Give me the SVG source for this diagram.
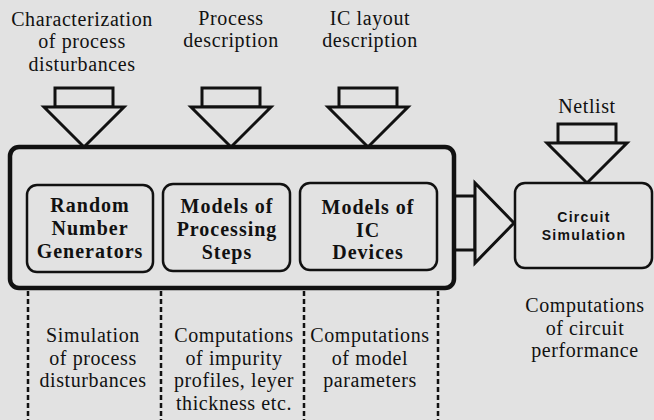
<svg xmlns="http://www.w3.org/2000/svg" width="654" height="420" viewBox="0 0 654 420">
  <style>
    .lbl { font-family: "Liberation Serif", serif; font-size: 20px; fill: #111; text-anchor: middle; letter-spacing: 0.6px; }
    .blk { font-family: "Liberation Serif", serif; font-size: 20px; font-weight: bold; fill: #111; text-anchor: middle; letter-spacing: 1px; }
    .sim { font-family: "Liberation Sans", sans-serif; font-size: 14px; font-weight: bold; fill: #111; text-anchor: middle; letter-spacing: 1.3px; }
    .arrow { fill: #e2e2e2; stroke: #111; stroke-width: 3; stroke-linejoin: miter; }
    .inner { fill: #e2e2e2; stroke: #111; stroke-width: 2.5; }
    .dash { stroke: #111; stroke-width: 2.5; stroke-dasharray: 5 3; fill: none; }
  </style>
  <defs>
    <!-- block arrow pointing down: stem box over a triangle -->
    <g id="downArrow">
      <path class="arrow" d="M-29,-59 H29 V-40 H-29 Z"/>
      <path class="arrow" d="M-40,-40 H40 L0,0 Z"/>
    </g>
  </defs>
  <rect width="654" height="420" fill="#e2e2e2"/>

  <!-- input labels -->
  <g id="labels-top">
    <text class="lbl" x="82" y="26">Characterization</text>
    <text class="lbl" x="82" y="48">of process</text>
    <text class="lbl" x="82" y="71">disturbances</text>
    <text class="lbl" x="231" y="25">Process</text>
    <text class="lbl" x="231" y="47">description</text>
    <text class="lbl" x="370" y="25">IC layout</text>
    <text class="lbl" x="370" y="47">description</text>
    <text class="lbl" x="587" y="113">Netlist</text>
  </g>

  <!-- connectors -->
  <g id="connectors">
    <use href="#downArrow" x="84" y="147"/>
    <use href="#downArrow" x="231" y="147"/>
    <use href="#downArrow" x="368" y="147"/>
    <use href="#downArrow" x="587" y="183"/>
    <!-- right-pointing block arrow into circuit simulation -->
    <path class="arrow" d="M452,196 H475 V250 H452"/>
    <path class="arrow" d="M475,183 V263 L514,223 Z"/>
    <line class="dash" x1="28" y1="291" x2="28" y2="420"/>
    <line class="dash" x1="161" y1="291" x2="161" y2="420"/>
    <line class="dash" x1="304" y1="291" x2="304" y2="420"/>
    <line class="dash" x1="438" y1="291" x2="438" y2="420"/>
  </g>

  <!-- process simulator container -->
  <g id="simulator">
    <rect x="10" y="147" width="444" height="141" rx="9" fill="#e2e2e2" stroke="#111" stroke-width="4.5"/>
  </g>

  <g id="rng">
    <rect class="inner" x="27" y="185" width="126" height="87" rx="10"/>
    <text class="blk" x="90" y="212">Random</text>
    <text class="blk" x="90" y="235">Number</text>
    <text class="blk" x="90" y="258">Generators</text>
  </g>

  <g id="process-models">
    <rect class="inner" x="163" y="184" width="127" height="87" rx="10"/>
    <text class="blk" x="227" y="213">Models of</text>
    <text class="blk" x="227" y="236">Processing</text>
    <text class="blk" x="227" y="259">Steps</text>
  </g>

  <g id="device-models">
    <rect class="inner" x="300" y="183" width="137" height="87" rx="10"/>
    <text class="blk" x="368" y="214">Models of</text>
    <text class="blk" x="368" y="237">IC</text>
    <text class="blk" x="368" y="259">Devices</text>
  </g>

  <g id="circuit-simulation">
    <rect class="inner" x="515" y="183" width="137" height="85" rx="10"/>
    <text class="sim" x="584" y="222">Circuit</text>
    <text class="sim" x="584" y="240">Simulation</text>
  </g>

  <!-- output descriptions -->
  <g id="labels-bottom">
    <text class="lbl" x="93" y="342">Simulation</text>
    <text class="lbl" x="93" y="365">of process</text>
    <text class="lbl" x="93" y="387">disturbances</text>
    <text class="lbl" x="234" y="342">Computations</text>
    <text class="lbl" x="234" y="365">of impurity</text>
    <text class="lbl" x="234" y="387">profiles, leyer</text>
    <text class="lbl" x="234" y="410">thickness etc.</text>
    <text class="lbl" x="370" y="342">Computations</text>
    <text class="lbl" x="370" y="365">of model</text>
    <text class="lbl" x="370" y="387">parameters</text>
    <text class="lbl" x="585" y="312">Computations</text>
    <text class="lbl" x="585" y="335">of circuit</text>
    <text class="lbl" x="585" y="357">performance</text>
  </g>
</svg>
